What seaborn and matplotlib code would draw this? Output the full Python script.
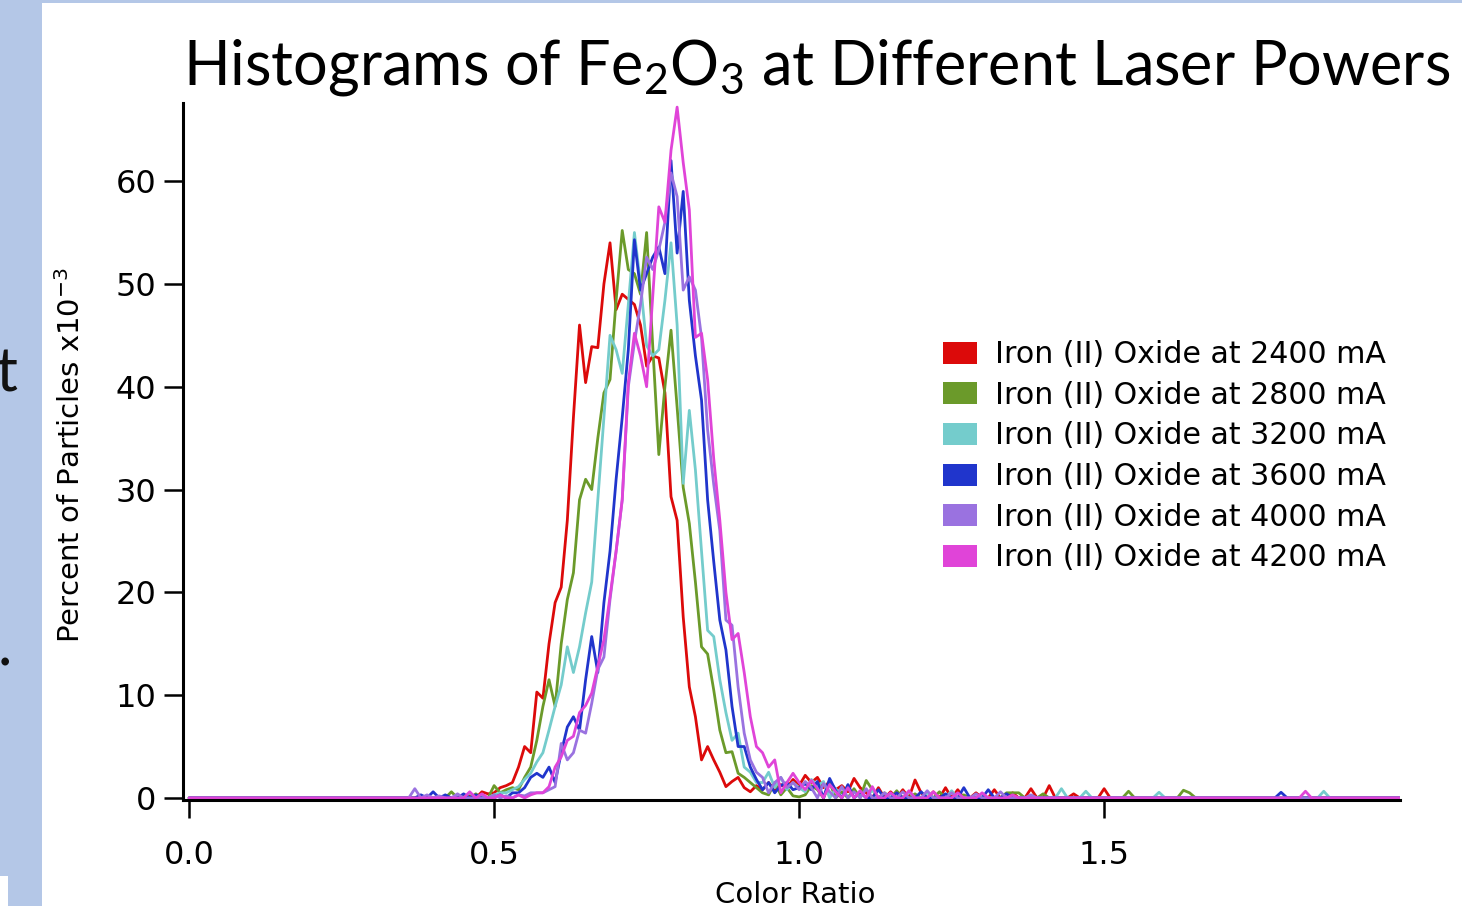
import numpy as np
import pandas as pd
import matplotlib
matplotlib.use("Agg")
import matplotlib.pyplot as plt
from matplotlib.patches import Patch, Rectangle
import seaborn as sns

# histogram bins of the colour ratio, 0.01 wide
bins = np.round(np.arange(0, 200) * 0.01, 2)
core_start = 0.50  # first bin of the *_core lists (0.50 .. 0.99)

labels = [
    "Iron (II) Oxide at 2400 mA",
    "Iron (II) Oxide at 2800 mA",
    "Iron (II) Oxide at 3200 mA",
    "Iron (II) Oxide at 3600 mA",
    "Iron (II) Oxide at 4000 mA",
    "Iron (II) Oxide at 4200 mA",
]
colors = ["#dc0a0a", "#6b9a2a", "#74cccc", "#2035cc", "#9a72e0", "#e044d8"]

# percent of particles x10^-3, bins 0.50 .. 0.99
red_core = [0.5, 1.0, 1.2, 1.5, 3.0, 5.0, 4.4, 10.3, 9.7, 15.0,
            19.0, 20.5, 27.0, 37.0, 46.0, 40.4, 43.9, 43.8, 50.0, 54.0,
            47.5, 49.0, 48.5, 48.0, 46.0, 42.0, 43.0, 42.8, 39.4, 29.3,
            27.0, 17.6, 10.8, 7.9, 3.7, 5.0, 3.7, 2.5, 1.1, 1.6,
            2.0, 1.0, 0.6, 1.2, 0.8, 1.5, 0.7, 1.3, 1.0, 1.8]
green_core = [1.2, 0.5, 0.8, 1.0, 0.8, 2.0, 3.0, 5.6, 8.9, 11.5,
              8.9, 15.0, 19.3, 21.9, 29.0, 31.0, 30.0, 35.0, 39.4, 40.7,
              48.4, 55.2, 51.4, 51.0, 49.0, 55.0, 44.0, 33.4, 40.0, 45.5,
              38.0, 30.2, 26.7, 21.0, 14.7, 14.0, 10.5, 6.6, 4.4, 4.5,
              2.4, 2.0, 1.5, 1.0, 0.5, 0.3, 1.5, 0.3, 1.0, 0.2]
cyan_core = [0.3, 0.5, 0.5, 0.8, 1.1, 1.8, 2.4, 3.5, 4.4, 6.6,
             8.9, 11.0, 14.7, 12.2, 14.7, 18.0, 21.0, 29.0, 37.0, 45.0,
             43.6, 41.3, 48.0, 55.0, 50.0, 44.0, 43.0, 43.6, 48.4, 54.0,
             46.0, 30.6, 37.7, 31.9, 24.0, 16.3, 15.7, 11.5, 8.3, 5.6,
             6.3, 3.0, 2.5, 1.5, 1.5, 2.5, 1.0, 2.0, 0.8, 1.5]
blue_core = [0.0, 0.3, 0.0, 0.5, 0.5, 1.0, 2.0, 2.4, 2.0, 3.0,
             1.5, 4.4, 6.9, 7.9, 6.6, 11.5, 15.7, 12.2, 19.0, 24.0,
             31.0, 37.0, 43.6, 54.3, 49.4, 51.0, 52.6, 53.6, 51.0, 62.0,
             53.0, 59.0, 48.4, 43.0, 38.7, 29.0, 23.0, 17.3, 14.4, 8.9,
             5.0, 5.0, 3.0, 1.8, 0.8, 1.5, 0.5, 1.2, 1.5, 0.8]
lavender_core = [0.3, 0.0, 0.2, 0.0, 0.3, 0.2, 0.5, 0.5, 0.5, 0.8,
                 1.1, 5.3, 3.7, 4.4, 6.6, 6.3, 9.2, 12.5, 13.7, 19.3,
                 24.0, 29.0, 40.0, 44.3, 48.0, 52.6, 51.4, 53.3, 56.0, 60.8,
                 58.5, 49.4, 50.7, 49.4, 44.8, 35.8, 30.5, 26.0, 17.3, 16.8,
                 10.8, 6.3, 3.7, 2.5, 2.0, 0.5, 1.5, 2.0, 1.0, 1.5]
magenta_core = [0.0, 0.3, 0.0, 0.0, 0.3, 0.0, 0.3, 0.5, 0.5, 1.1,
                3.0, 4.0, 5.6, 6.0, 8.3, 9.0, 10.2, 12.8, 15.4, 19.6,
                24.0, 29.0, 40.4, 45.2, 43.0, 40.0, 48.7, 57.5, 56.0, 63.0,
                67.2, 61.8, 57.2, 44.8, 45.2, 40.7, 33.0, 27.0, 20.0, 15.4,
                16.0, 12.2, 7.9, 5.0, 4.4, 3.0, 3.7, 0.5, 1.5, 2.4]

# isolated non-zero bins outside the core range (ratio, value)
red_extra = [(0.46, 0.3), (0.48, 0.6), (0.49, 0.4),
             (1.00, 1.2), (1.01, 2.2), (1.02, 1.5), (1.03, 2.0), (1.04, 1.0), (1.05, 1.6),
             (1.06, 0.8), (1.07, 1.2), (1.08, 0.6), (1.09, 1.9), (1.10, 1.0), (1.11, 0.5),
             (1.13, 1.0), (1.15, 0.6), (1.17, 0.8), (1.19, 1.75), (1.20, 0.5), (1.22, 0.6),
             (1.24, 1.0), (1.26, 0.8), (1.29, 0.5), (1.32, 0.8), (1.35, 0.5), (1.38, 0.9),
             (1.41, 1.2), (1.45, 0.4), (1.50, 0.9)]
green_extra = [(0.43, 0.6), (0.45, 0.3), (0.47, 0.4),
               (1.00, 0.1), (1.01, 0.3), (1.02, 1.2), (1.03, 0.8), (1.05, 1.5), (1.07, 0.6),
               (1.09, 0.9), (1.11, 1.7), (1.12, 0.8), (1.14, 0.5), (1.16, 0.7), (1.19, 0.4),
               (1.23, 0.6), (1.27, 0.3), (1.34, 0.5), (1.35, 0.5), (1.36, 0.5), (1.40, 0.4),
               (1.54, 0.65), (1.63, 0.75), (1.64, 0.5)]
cyan_extra = [(0.44, 0.3), (0.46, 0.5), (0.48, 0.3),
              (1.00, 1.0), (1.01, 0.6), (1.02, 1.8), (1.03, 1.2), (1.04, 1.6), (1.06, 0.9),
              (1.08, 1.2), (1.10, 0.5), (1.12, 0.8), (1.15, 0.4), (1.18, 0.6), (1.21, 0.5),
              (1.25, 0.7), (1.30, 0.4), (1.43, 0.9), (1.47, 0.65), (1.59, 0.55), (1.86, 0.65)]
blue_extra = [(0.38, 0.3), (0.40, 0.6), (0.42, 0.3), (0.45, 0.4), (0.47, 0.3),
              (1.00, 1.0), (1.01, 1.4), (1.02, 0.8), (1.03, 1.6), (1.05, 1.9), (1.06, 0.7),
              (1.08, 1.3), (1.10, 0.6), (1.13, 0.8), (1.16, 0.5), (1.20, 0.6), (1.24, 0.4),
              (1.27, 1.0), (1.31, 0.8), (1.34, 0.4), (1.79, 0.55)]
lavender_extra = [(0.37, 0.9), (0.39, 0.3), (0.41, 0.2), (0.44, 0.4),
                  (1.00, 0.8), (1.01, 1.6), (1.02, 1.0), (1.04, 1.4), (1.05, 0.6), (1.07, 1.1),
                  (1.09, 0.6), (1.11, 0.9), (1.14, 0.5), (1.17, 0.6), (1.21, 0.7), (1.25, 0.5),
                  (1.29, 0.4), (1.33, 0.6), (1.38, 0.3)]
magenta_extra = [(0.46, 0.6), (0.48, 0.4),
                 (1.00, 1.5), (1.01, 0.8), (1.02, 1.7), (1.03, 0.9), (1.05, 1.3), (1.06, 0.6),
                 (1.08, 1.0), (1.10, 0.7), (1.12, 1.1), (1.15, 0.5), (1.18, 0.7), (1.22, 0.6),
                 (1.26, 0.5), (1.30, 0.5), (1.35, 0.3), (1.83, 0.65)]

cores = [red_core, green_core, cyan_core, blue_core, lavender_core, magenta_core]
extras = [red_extra, green_extra, cyan_extra, blue_extra, lavender_extra, magenta_extra]


def build(core, extra):
    y = np.zeros(len(bins))
    i0 = int(round(core_start / 0.01))
    y[i0:i0 + len(core)] = core
    for x, v in extra:
        y[int(round(x / 0.01))] = v
    return y


frames = []
for lab, core, extra in zip(labels, cores, extras):
    frames.append(pd.DataFrame({"ratio": bins, "pct": build(core, extra), "series": lab}))
df = pd.concat(frames, ignore_index=True)

sns.set_style("ticks")
plt.rcParams["font.family"] = ["DejaVu Sans"]
plt.rcParams["mathtext.default"] = "regular"
plt.rcParams["text.color"] = "black"

fig = plt.figure(figsize=(14.62, 9.06), dpi=100)
fig.patch.set_facecolor("white")

# slide background bits around the pasted chart
fig.patches.append(Rectangle((0, 0), 42 / 1462, 1, transform=fig.transFigure,
                             facecolor="#b4c7e7", edgecolor="none", zorder=0))
fig.patches.append(Rectangle((0, 1 - 3 / 906), 1, 3 / 906, transform=fig.transFigure,
                             facecolor="#b4c7e7", edgecolor="none", zorder=0))
fig.patches.append(Rectangle((0, 0), 8 / 1462, 30 / 906, transform=fig.transFigure,
                             facecolor="white", edgecolor="none", zorder=1))
fig.text(-4 / 1462, 1 - 392 / 906, "t", fontsize=44, family=["Lato", "DejaVu Sans"],
         ha="left", va="baseline", color="#111111")
fig.text(-2 / 1462, 1 - 665 / 906, ".", fontsize=44, family=["Lato", "DejaVu Sans"],
         ha="left", va="baseline", color="#111111")

ax = fig.add_axes([183 / 1462, 106 / 906, 1217 / 1462, 697 / 906])
sns.lineplot(data=df, x="ratio", y="pct", hue="series", hue_order=labels,
             palette=colors, estimator=None, linewidth=2.0, legend=False, ax=ax)

ax.set_xlim(-0.01, 1.985)
ax.set_ylim(-0.2, 67.6)
ax.set_xticks([0.0, 0.5, 1.0, 1.5])
ax.set_xticklabels(["0.0", "0.5", "1.0", "1.5"])
ax.set_yticks([0, 10, 20, 30, 40, 50, 60])
ax.set_xlabel("")
ax.set_ylabel("")
for side in ["top", "right"]:
    ax.spines[side].set_visible(False)
for side in ["left", "bottom"]:
    ax.spines[side].set_linewidth(2.2)
    ax.spines[side].set_color("black")
ax.tick_params(axis="y", length=14, width=1.8, pad=5, labelsize=23, colors="black")
ax.tick_params(axis="x", length=13, width=1.8, pad=16, labelsize=23, colors="black")

fig.text(817 / 1462, 1 - 85 / 906,
         "Histograms of Fe$_2$O$_3$ at Different Laser Powers",
         fontsize=44, family=["Lato", "DejaVu Sans"], ha="center", va="baseline")
fig.text(71 / 1462, 1 - 455 / 906, "Percent of Particles x10$^{-3}$",
         fontsize=21, family=["Liberation Sans Narrow", "DejaVu Sans"],
         rotation=90, ha="center", va="center")
fig.text(795 / 1462, 1 - 881 / 906, "Color Ratio", fontsize=21,
         ha="center", va="top")

handles = [Patch(facecolor=c, edgecolor="none") for c in colors]
leg = fig.legend(handles, labels, loc="upper left", bbox_to_anchor=(943 / 1462, 1 - 340 / 906),
                 bbox_transform=fig.transFigure, frameon=False, fontsize=21.6,
                 handlelength=1.13, handleheight=0.75, handletextpad=0.6,
                 labelspacing=0.39, borderpad=0, borderaxespad=0)
for t in leg.get_texts():
    t.set_color("black")

fig.savefig("out.png", dpi=100)
